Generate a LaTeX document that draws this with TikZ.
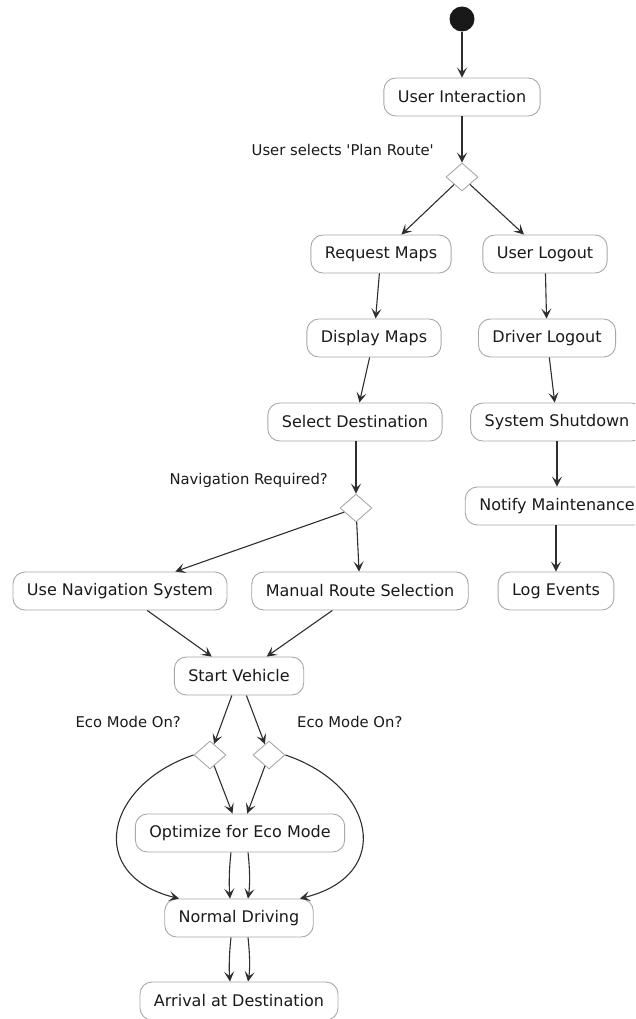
\documentclass[tikz,border=0pt]{standalone}
\usepackage{fontspec}
\setmainfont{DejaVu Sans}
\usetikzlibrary{shapes.geometric,arrows.meta,calc}
\definecolor{boxline}{HTML}{A8A8A8}
\definecolor{edgecol}{HTML}{2E2E2E}
\definecolor{txtcol}{HTML}{1A1A1A}
\tikzset{
  act/.style={draw=boxline, line width=0.9pt, rounded corners=12pt, fill=white,
    minimum height=38pt, inner xsep=14pt, inner ysep=0pt, text=txtcol,
    font=\fontsize{16}{19}\selectfont},
  dec/.style={draw=boxline, line width=0.9pt, diamond, fill=white, inner sep=0pt,
    minimum width=32pt, minimum height=28pt},
  lab/.style={text=txtcol, inner sep=0pt, font=\fontsize{14.8}{18}\selectfont},
  flow/.style={draw=edgecol, line width=1.1pt, -{Stealth[length=10pt,width=10pt,inset=4.5pt]}}
}
\begin{document}
\begin{tikzpicture}[x=1pt,y=-1pt]
\useasboundingbox (0,0) rectangle (635,1019);
\clip (0,0) rectangle (635,1019);
% nodes
\node[circle, fill=txtcol!95!black, inner sep=0pt, minimum size=25pt] (start) at (462,19) {};
\node[act] (ui) at (462,97) {User Interaction};
\node[lab, anchor=east] (l1) at (434,150) {User selects \textquotesingle Plan Route\textquotesingle};
\node[dec] (d1) at (462,177) {};
\node[act] (rm) at (381,254) {Request Maps};
\node[act] (ul) at (545,254) {User Logout};
\node[act] (dm) at (374,338) {Display Maps};
\node[act] (dl) at (547,338) {Driver Logout};
\node[act] (sd) at (355,422) {Select Destination};
\node[act] (ss) at (557,422) {System Shutdown};
\node[lab, anchor=east] (l2) at (328,480) {Navigation Required?};
\node[dec] (d2) at (356,508) {};
\node[act] (nm) at (557,506) {Notify Maintenance};
\node[act] (uns) at (120,591) {Use Navigation System};
\node[act] (mrs) at (360,591) {Manual Route Selection};
\node[act] (le) at (556,591) {Log Events};
\node[act] (sv) at (239,676) {Start Vehicle};
\node[lab, anchor=east] (l3) at (181,722) {Eco Mode On?};
\node[lab, anchor=west] (l4) at (297,722) {Eco Mode On?};
\node[dec] (d3) at (210,755) {};
\node[dec] (d4) at (269,755) {};
\node[act] (oem) at (240,833) {Optimize for Eco Mode};
\node[act] (nd) at (239,918) {Normal Driving};
\node[act] (arr) at (239,1001) {Arrival at Destination};
% edges
\draw[flow] (start) -- (ui);
\draw[flow] (ui) -- (d1);
\draw[flow] (d1) -- (rm);
\draw[flow] (d1) -- (ul);
\draw[flow] (rm) -- (dm);
\draw[flow] (dm) -- (sd);
\draw[flow] (sd.south -| d2) -- (d2);
\draw[flow] (ul) -- (dl);
\draw[flow] (dl) -- (ss);
\draw[flow] (ss) -- (nm);
\draw[flow] (nm.south -| le) -- (le);
\draw[flow] (d2) -- (uns);
\draw[flow] (d2) -- (mrs);
\draw[flow] (uns) -- (sv);
\draw[flow] (mrs) -- (sv);
\draw[flow] (sv) -- (d3);
\draw[flow] (sv) -- (d4);
\draw[flow] (d3) -- (oem);
\draw[flow] (d4) -- (oem);
\draw[flow] (d3.west) .. controls (105,785) and (85,875) .. ([xshift=-60pt]nd.north);
\draw[flow] (d4.east) .. controls (375,785) and (395,875) .. ([xshift=61pt]nd.north);
\draw[flow] ([xshift=-9pt]oem.south) .. controls (229,870) and (229,885) .. ([xshift=-9pt]nd.north);
\draw[flow] ([xshift=8pt]oem.south) .. controls (250,870) and (250,885) .. ([xshift=9pt]nd.north);
\draw[flow] ([xshift=-8pt]nd.south) .. controls (229,955) and (229,970) .. ([xshift=-9pt]arr.north);
\draw[flow] ([xshift=9pt]nd.south) .. controls (250,955) and (250,970) .. ([xshift=9pt]arr.north);
\end{tikzpicture}
\end{document}
